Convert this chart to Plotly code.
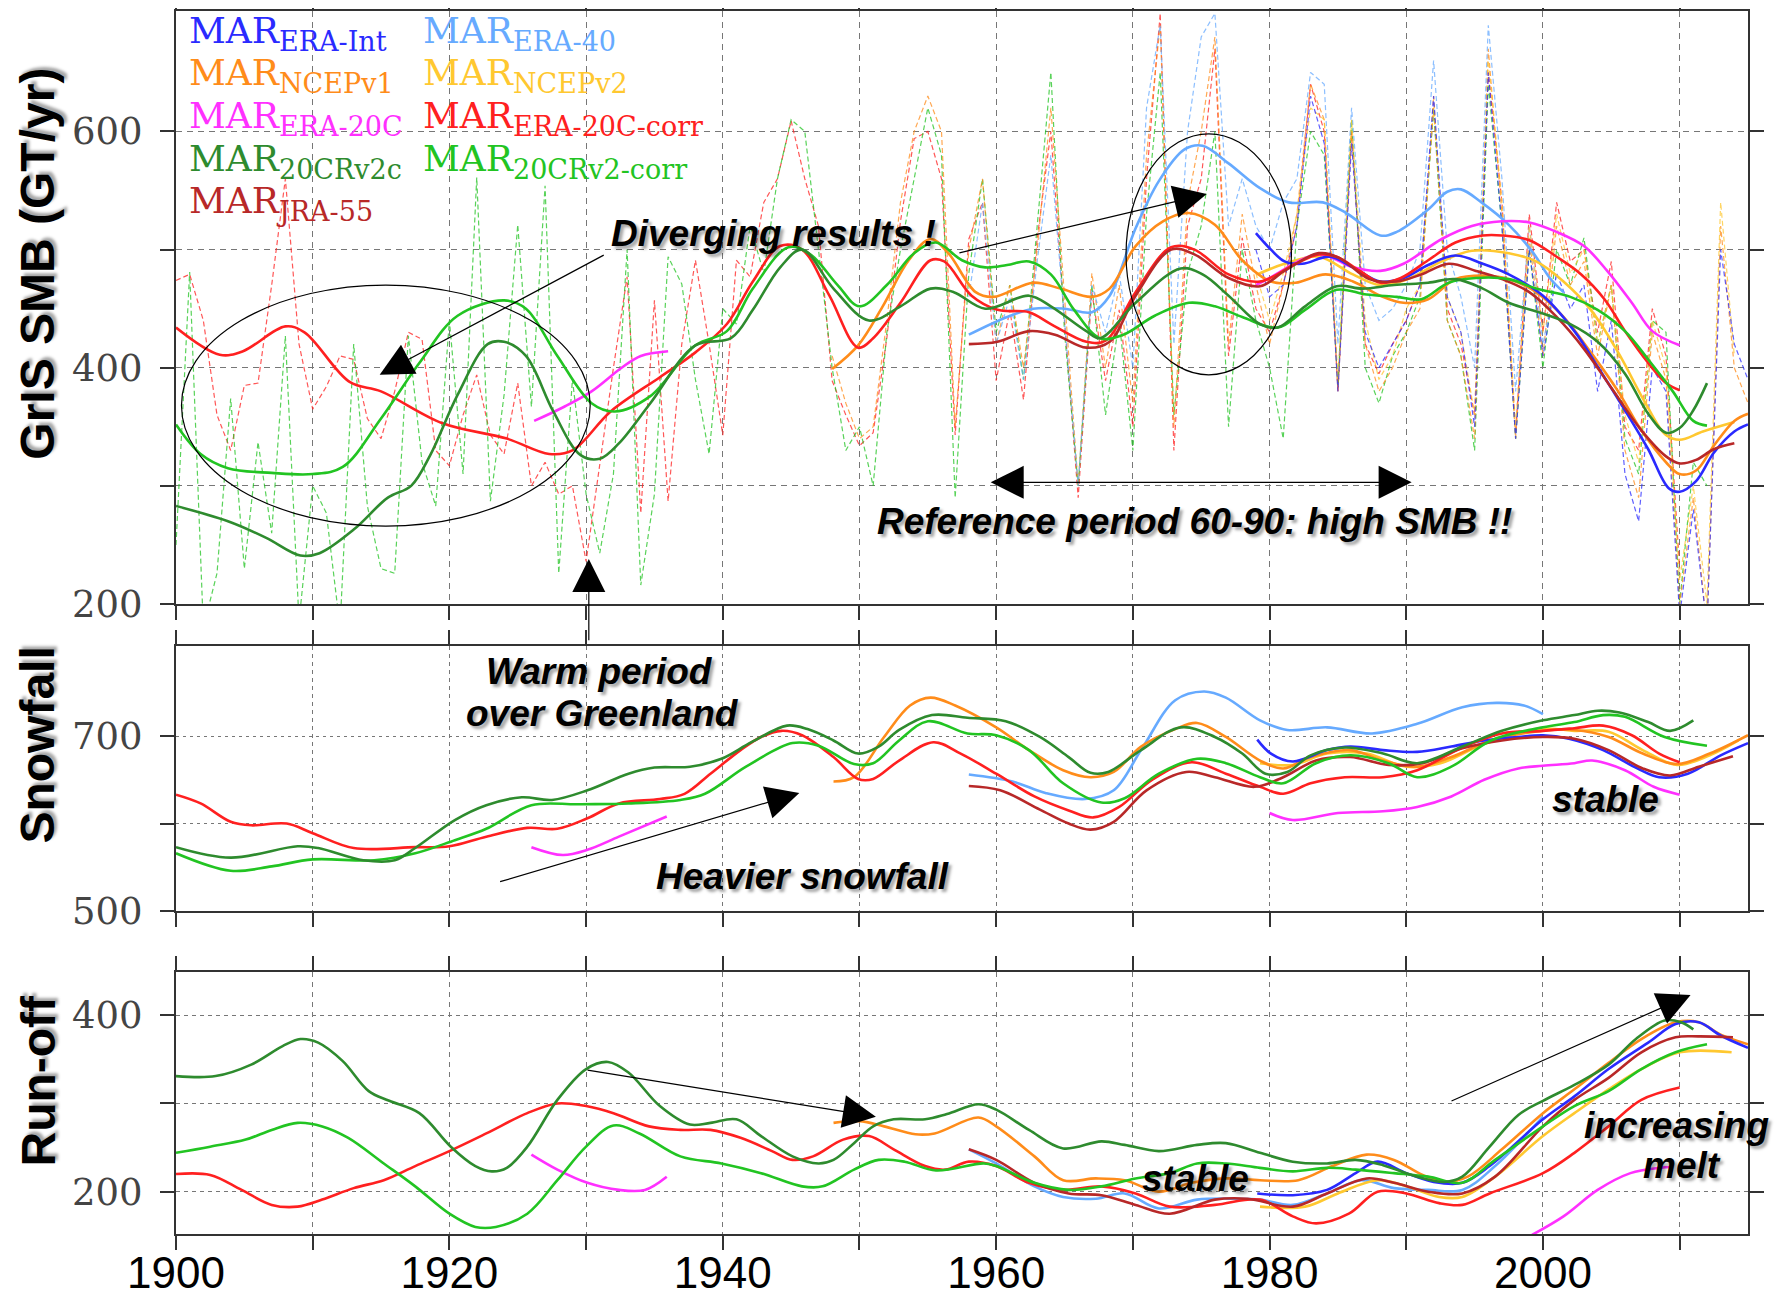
import plotly.graph_objects as go

# ---------------- colours ----------------
C_ERAINT = "#2a2aff"
C_ERA40 = "#66aaff"
C_NCEP1 = "#ff8c1a"
C_NCEP2 = "#ffc830"
C_ERA20C = "#ff30ff"
C_ERA20CC = "#ff2020"
C_20CRC = "#2e8b2e"
C_20CRCORR = "#22c422"
C_JRA = "#b82828"

# ---------------- SMB annual (dashed) ----------------
ann_red_years = list(range(1900, 2011))
ann_red = [474, 479, 440, 360, 330, 385, 387, 470, 560, 420, 365, 384, 410, 407, 357, 340, 380, 430, 424, 330,
           317, 360, 394, 343, 327, 387, 300, 320, 293, 300, 236, 320, 400, 477, 277, 457, 287, 420, 491, 420,
           343, 491, 477, 540, 560, 609, 560, 520, 389, 360, 334, 345, 425, 524, 594, 600, 560, 343, 509, 540,
           389, 449, 373, 509, 600, 440, 290, 464, 389, 449, 350, 560, 700, 330, 520, 560, 670, 410, 510, 450,
           430, 470, 520, 640, 600, 380, 600, 420, 395, 420, 440, 470, 620, 450, 420, 360, 650, 540, 345, 530,
           430, 540, 490, 500, 430, 490, 350, 330, 450, 410, 230]
ann_green_years = list(range(1900, 2013))
ann_green = [250, 481, 180, 226, 374, 230, 337, 260, 427, 185, 300, 277, 180, 420, 283, 230, 226, 427, 320, 283,
             440, 310, 561, 287, 377, 521, 367, 554, 226, 390, 293, 243, 310, 500, 216, 293, 494, 471, 390, 327,
             450, 437, 520, 480, 560, 610, 600, 500, 400, 330, 350, 300, 430, 500, 560, 620, 580, 290, 480, 560,
             430, 470, 390, 520, 650, 430, 300, 470, 360, 440, 330, 530, 650, 360, 480, 520, 600, 350, 500, 440,
             400, 340, 520, 600, 580, 385, 610, 400, 370, 410, 430, 460, 620, 440, 410, 330, 640, 520, 340, 500,
             400, 500, 470, 510, 420, 470, 340, 310, 440, 430, 200, 320, 300]
ann_orange_years = list(range(1948, 2016))
ann_orange = [410, 370, 340, 350, 440, 540, 600, 630, 600, 350, 500, 560, 420, 470, 400, 500, 620, 460, 300, 480,
              400, 470, 370, 580, 690, 350, 540, 600, 680, 420, 530, 470, 420, 470, 530, 640, 610, 380, 600, 420,
              380, 400, 430, 450, 630, 440, 410, 340, 670, 530, 340, 510, 410, 520, 470, 490, 410, 470, 330, 290,
              430, 390, 200, 290, 180, 520, 400, 370]
ann_lblue_years = list(range(1958, 2002))
ann_lblue = [460, 540, 420, 460, 390, 490, 580, 440, 300, 470, 430, 480, 400, 620, 690, 420, 600, 680, 700, 520,
             560, 520, 500, 540, 560, 650, 640, 420, 620, 470, 440, 450, 470, 500, 660, 500, 460, 400, 690, 560,
             380, 520, 420, 480]
ann_blue_years = list(range(1979, 2016))
ann_blue = [500, 460, 470, 520, 630, 590, 380, 590, 430, 400, 420, 440, 470, 630, 460, 430, 350, 650, 520, 340,
            500, 410, 480, 450, 470, 380, 440, 310, 270, 400, 380, 190, 280, 180, 500, 420, 390]
ann_gold_years = list(range(1979, 2015))
ann_gold = [480, 440, 480, 530, 620, 610, 390, 610, 440, 390, 410, 450, 470, 620, 460, 430, 360, 660, 540, 350,
            520, 430, 530, 480, 500, 420, 470, 360, 320, 440, 400, 220, 300, 200, 540, 410]

# ---------------- SMB smoothed ----------------
smb_red_x = [1900, 1903.2, 1904.9, 1908, 1909.4, 1912.7, 1915, 1919.5, 1924.2, 1927.3, 1929, 1931.8, 1935.4, 1938,
             1940.3, 1942.2, 1944.2, 1945.8, 1947.8, 1949.9, 1951, 1953, 1955.2, 1956.2, 1958.2, 1960.1, 1962.4,
             1964, 1966.6, 1968, 1970.2, 1972.8, 1974.5, 1977, 1979.3, 1981.9, 1983.6, 1984.9, 1986.6, 1988.1,
             1989.6, 1991.6, 1993.6, 1995.6, 1997, 1999, 2001, 2002.8, 2004.5, 2006, 2007.7, 2009, 2010]
smb_red_y = [434, 411, 414, 435, 430, 388, 380, 353, 340, 327, 330, 363, 392, 413, 437, 473, 503, 500, 461, 417,
             425, 455, 491, 490, 461, 449, 447, 437, 422, 423, 464, 502, 500, 479, 473, 488, 496, 494, 482, 472,
             476, 491, 506, 512, 512, 508, 494, 479, 458, 431, 404, 387, 381]
smb_lgreen_x = [1900, 1901.8, 1903.8, 1907, 1910, 1912.2, 1915, 1917.8, 1920.6, 1924, 1925.6, 1927.9, 1930.4,
                1932.1, 1934.7, 1938, 1940.3, 1942.2, 1944.8, 1946.4, 1948.4, 1950, 1952, 1954, 1955.6, 1957.5,
                1959.2, 1960.8, 1962.4, 1964, 1965.7, 1967.6, 1969.3, 1971.6, 1974.1, 1976, 1978, 1980.6, 1982.6,
                1984.9, 1987.1, 1989.3, 1991.1, 1993.1, 1995.1, 1997.5, 1999.5, 2002, 2004, 2006, 2007.7, 2009.5,
                2011, 2012]
smb_lgreen_y = [352, 327, 315, 311, 310, 316, 357, 404, 444, 457, 450, 410, 370, 363, 376, 419, 431, 467, 502, 496,
                470, 452, 470, 497, 506, 491, 485, 487, 490, 479, 449, 425, 428, 444, 455, 452, 443, 434, 449, 466,
                462, 460, 458, 472, 476, 475, 467, 460, 449, 431, 407, 380, 355, 351]
smb_dgreen_x = [1900, 1903.8, 1906.6, 1909.1, 1910.5, 1913, 1915.5, 1917.2, 1918.6, 1920.6, 1922.8, 1924, 1925.6,
                1927.6, 1929.6, 1931, 1932.4, 1934.7, 1938, 1940.6, 1942.2, 1944.2, 1945.8, 1948.1, 1950.7, 1953,
                1955.2, 1956.9, 1959.2, 1962.4, 1964, 1966.6, 1967.6, 1970.2, 1973.5, 1975.1, 1977, 1979.3, 1980.6,
                1982.6, 1984.9, 1986.8, 1989.1, 1991.6, 1993.6, 1995.6, 1997.5, 2000, 2002, 2004, 2006, 2007.7,
                2009, 2010, 2011, 2012]
smb_dgreen_y = [283, 270, 256, 241, 243, 263, 290, 300, 326, 377, 420, 422, 410, 363, 326, 323, 336, 370, 419, 425,
                449, 485, 500, 467, 440, 452, 467, 464, 450, 461, 452, 431, 425, 455, 484, 479, 461, 437, 434, 452,
                469, 467, 470, 472, 475, 467, 455, 446, 437, 422, 395, 361, 345, 349, 364, 387]
smb_mag_x = [1926.2, 1928.4, 1930.4, 1932.6, 1934, 1936, None, 1979, 1980, 1983.6, 1986.1, 1988.1, 1989.8, 1992.6,
             1994.8, 1997, 1999, 2001, 2003, 2004.7, 2006.5, 2008, 2010]
smb_mag_y = [355, 367, 380, 400, 410, 414, None, 470, 476, 496, 485, 482, 488, 509, 520, 524, 523, 515, 503, 482,
             455, 431, 419]
smb_blue_x = [1979, 1980.1, 1981.1, 1982.4, 1984.4, 1986.1, 1988.1, 1989.8, 1991.6, 1993.6, 1995.6, 1997.5, 2000,
              2002.3, 2004, 2006, 2007.7, 2009.2, 2010, 2011.2, 2012.5, 2014, 2015]
smb_blue_y = [514, 500, 490, 488, 494, 485, 473, 476, 487, 495, 488, 479, 461, 431, 401, 364, 331, 298, 295, 304,
              328, 346, 352]
smb_lblue_x = [1958, 1960.8, 1962.7, 1965, 1967, 1968.3, 1970.2, 1971.9, 1973.8, 1975.1, 1977, 1979.3, 1981.4,
               1983.9, 1985.6, 1988.1, 1989.3, 1991.6, 1993, 1994, 1995.5, 1997.5, 1999.3, 2000.5, 2001.5]
smb_lblue_y = [428, 443, 450, 450, 447, 461, 518, 558, 585, 588, 573, 552, 540, 540, 531, 512, 515, 534, 549, 551,
               540, 521, 497, 476, 464]
smb_orange_x = [1948, 1949.9, 1951.7, 1953.6, 1955.2, 1956.5, 1958.5, 1959.8, 1962.7, 1964.7, 1967, 1968.3, 1970.2,
                1972.2, 1974.1, 1976, 1978, 1980.1, 1981.9, 1984.1, 1986.1, 1988.1, 1989.8, 1991.6, 1993.6, 1995.6,
                1997.5, 1999.5, 2001.5, 2003.5, 2005.5, 2007.2, 2009, 2010, 2011.2, 2012.5, 2014, 2015]
smb_orange_y = [399, 419, 452, 491, 509, 497, 464, 460, 472, 467, 460, 467, 503, 524, 531, 521, 491, 473, 472, 479,
                473, 461, 455, 458, 475, 478, 475, 464, 443, 413, 380, 347, 320, 310, 313, 334, 355, 361]
smb_gold_x = [1979.1, 1981.1, 1983.6, 1986.1, 1988.1, 1990.1, 1992.6, 1994.8, 1997.5, 1999.5, 2001.5, 2003.5,
              2005.5, 2007.5, 2009, 2010, 2011.7, 2014]
smb_gold_y = [479, 488, 494, 479, 470, 475, 490, 499, 497, 490, 473, 449, 413, 370, 343, 339, 346, 354]
smb_jra_x = [1958, 1960.1, 1962.4, 1964.3, 1966.6, 1968.3, 1970.2, 1972.8, 1974.5, 1977, 1979.3, 1981.1, 1983.6,
             1985.1, 1987.3, 1989.3, 1991.1, 1993.1, 1995.1, 1997, 1999, 2001, 2003, 2005, 2007.2, 2009, 2010,
             2011.2, 2012.5, 2014]
smb_jra_y = [420, 422, 431, 428, 417, 422, 461, 500, 496, 476, 469, 482, 497, 493, 475, 473, 479, 488, 482, 475,
             464, 443, 416, 383, 347, 325, 319, 322, 331, 336]

# ---------------- Snowfall smoothed ----------------
sf_red_x = [1900, 1901.8, 1904, 1905.5, 1908.1, 1910, 1913, 1917.5, 1920, 1922.7, 1925.7, 1927.9, 1930.1, 1932.4,
            1935.4, 1937.2, 1939.1, 1941.3, 1942.8, 1944.3, 1945.8, 1948.1, 1949.9, 1951, 1952.9, 1955.4, 1957.4,
            1960, 1962.8, 1965.3, 1967.1, 1969, 1971.4, 1974.3, 1976.8, 1979.3, 1981, 1983, 1985.5, 1988.3, 1990.8,
            1994.1, 1997, 2000, 2002.3, 2004.4, 2006.5, 2008.5, 2010]
sf_red_y = [633, 623, 602, 598, 600, 589, 572, 573, 574, 585, 595, 594, 606, 623, 628, 634, 657, 684, 699, 706,
            701, 676, 651, 651, 672, 693, 680, 657, 631, 615, 607, 619, 650, 670, 657, 642, 634, 646, 653, 653, 661,
            687, 703, 706, 709, 712, 701, 680, 670]
sf_dgreen_x = [1900, 1904, 1908.9, 1910.4, 1913.7, 1916, 1917.5, 1920.4, 1922.7, 1925.3, 1927.5, 1930.1, 1933.1,
               1935, 1937.6, 1939.9, 1942.1, 1944.7, 1946.2, 1948.1, 1949.9, 1951.4, 1952.9, 1955.3, 1957.9, 1960.7,
               1963.2, 1965.3, 1966.9, 1968.2, 1970.6, 1973.5, 1976, 1978, 1979.7, 1981.3, 1983, 1985.5, 1988.3,
               1990.8, 1994.1, 1997, 2000, 2002.3, 2004, 2005.6, 2007.7, 2009.3, 2011]
sf_dgreen_y = [573, 561, 574, 572, 558, 558, 572, 604, 621, 630, 627, 638, 657, 664, 665, 674, 693, 712, 708, 695,
               680, 688, 707, 724, 721, 717, 699, 676, 658, 659, 684, 710, 699, 680, 657, 659, 678, 687, 680, 669,
               688, 706, 718, 724, 729, 727, 716, 706, 718]
sf_lgreen_x = [1900, 1904, 1907, 1910, 1914.5, 1917.5, 1920.4, 1922.7, 1926, 1929.4, 1933.1, 1936.9, 1938.7, 1941.7,
               1945.1, 1947, 1949.6, 1951, 1952.9, 1955, 1957.9, 1960, 1962.4, 1964.9, 1967.7, 1969.4, 1971.9,
               1974.7, 1976.8, 1979.3, 1981, 1983.4, 1985.9, 1988.7, 1990.8, 1993.3, 1996.2, 2000, 2002.3, 2004.4,
               2006, 2008.9, 2012]
sf_lgreen_y = [566, 546, 551, 559, 558, 566, 581, 594, 621, 622, 623, 627, 634, 665, 692, 689, 668, 669, 695, 717,
               703, 701, 684, 646, 624, 629, 657, 674, 669, 653, 646, 669, 678, 669, 653, 665, 695, 710, 716, 724,
               722, 699, 689]
sf_mag_x = [1926, 1928.3, 1930.1, 1932.4, 1935.9, None, 1980, 1981.7, 1985, 1988.3, 1990.8, 1993.3, 1995.7, 1998.2,
            2000, 2002.3, 2003.6, 2006, 2008.1, 2010]
sf_mag_y = [573, 564, 570, 585, 608, None, 612, 604, 612, 614, 619, 631, 650, 663, 666, 669, 672, 661, 642, 633]
sf_orange_x = [1948.1, 1949.6, 1951.8, 1953.7, 1955.2, 1957, 1960, 1962.4, 1964.9, 1966.9, 1968.6, 1970.6, 1973.1,
               1974.7, 1976.8, 1979.3, 1981, 1983, 1985.9, 1988.3, 1990.8, 1993.3, 1996.2, 2000, 2002.3, 2004.8,
               2007.3, 2009.8, 2012.2, 2015]
sf_orange_y = [648, 653, 699, 735, 744, 735, 710, 684, 661, 653, 659, 688, 708, 715, 699, 672, 663, 676, 684, 672,
               665, 676, 695, 706, 707, 699, 680, 668, 680, 701]
sf_lblue_x = [1958, 1961.2, 1963.6, 1966.5, 1968.6, 1970.6, 1973.1, 1975.2, 1976.8, 1979.3, 1981.3, 1984.2, 1987.5,
              1990.8, 1994.1, 1996.6, 1998.6, 2000]
sf_lblue_y = [656, 648, 635, 628, 638, 684, 741, 751, 744, 718, 707, 710, 703, 714, 733, 738, 735, 725]
sf_jra_x = [1958, 1960.3, 1963.2, 1965.3, 1966.9, 1968.6, 1971, 1973.9, 1976, 1978.9, 1981, 1983.4, 1985.9, 1988.7,
            1991.2, 1994.1, 1997, 2000, 2002.3, 2004.8, 2007.3, 2009.3, 2011.4, 2013.9]
sf_jra_y = [643, 638, 616, 600, 593, 602, 638, 659, 653, 642, 653, 672, 676, 667, 669, 686, 695, 699, 697, 684,
            663, 655, 665, 677]
sf_blue_x = [1979.1, 1980.1, 1981.7, 1984.2, 1985.9, 1988.3, 1990.8, 1993.3, 1995.7, 1998.2, 2000, 2001.9, 2004.4,
             2006.9, 2008.5, 2010.6, 2013, 2015]
sf_blue_y = [696, 680, 671, 684, 688, 684, 682, 688, 695, 699, 701, 697, 684, 663, 653, 657, 678, 692]
sf_gold_x = [1979.3, 1981.7, 1984.2, 1987.1, 1990, 1992.5, 1995.7, 2000, 2002.3, 2004.8, 2007.3, 2009.8, 2012.2,
             2014.3]
sf_gold_y = [669, 667, 680, 680, 665, 669, 691, 708, 706, 705, 684, 667, 678, 695]

# ---------------- Run-off smoothed ----------------
ro_dgreen_x = [1900, 1902.9, 1905.5, 1907.8, 1909.1, 1910.4, 1912.2, 1914.1, 1915.6, 1917.8, 1920.1, 1921.9, 1923.1,
               1924.2, 1925.7, 1927.9, 1930, 1931.6, 1933.1, 1935.4, 1937.6, 1939.1, 1941, 1942.8, 1945.1, 1947,
               1948.1, 1949.6, 1951, 1952.5, 1954.8, 1956.4, 1958.7, 1960, 1962.4, 1964.9, 1967.7, 1969.4, 1971.9,
               1974.7, 1976.8, 1979.3, 1981.7, 1984.2, 1986.3, 1988.3, 1990.8, 1992.8, 1994.1, 1996.1, 1998.2, 2000,
               2002.3, 2004.8, 2006.8, 2008.9, 2010.1, 2011]
ro_dgreen_y = [331, 331, 344, 365, 373, 369, 348, 314, 303, 289, 251, 229, 223, 227, 251, 304, 339, 347, 335, 297,
               276, 278, 282, 263, 240, 232, 236, 255, 274, 282, 282, 288, 299, 293, 270, 249, 257, 253, 246, 253,
               255, 244, 234, 232, 236, 230, 217, 211, 217, 251, 287, 303, 321, 344, 373, 394, 392, 384]
ro_lgreen_x = [1900, 1902.5, 1905.1, 1907, 1908.9, 1910.7, 1912.6, 1915.2, 1917.5, 1920, 1921.9, 1923.4, 1925.7,
               1927.9, 1930, 1932, 1933.9, 1936.9, 1939.9, 1942.8, 1945.8, 1947.3, 1949.6, 1951.4, 1953.3, 1955.6,
               1959.1, 1960, 1962.8, 1965.3, 1967.7, 1970.2, 1972.7, 1974.7, 1976.8, 1979.3, 1981.7, 1984.2, 1986.3,
               1989.1, 1991.6, 1994.1, 1996.5, 2000, 2002.3, 2004.8, 2007.2, 2009.7, 2012]
ro_lgreen_y = [244, 251, 259, 270, 278, 274, 261, 232, 206, 175, 160, 160, 175, 213, 251, 275, 266, 240, 232, 221,
               206, 206, 225, 236, 234, 224, 232, 229, 210, 202, 206, 215, 221, 232, 232, 227, 223, 227, 225, 221,
               217, 210, 236, 274, 297, 314, 339, 358, 367]
ro_red_x = [1900, 1902.5, 1904.8, 1907, 1908.9, 1910.7, 1913, 1915.2, 1917.5, 1920, 1922.7, 1925.7, 1927.9, 1930,
            1932, 1934.6, 1936.9, 1939.1, 1941.3, 1943.6, 1945.1, 1946.6, 1948.8, 1950.7, 1952.5, 1954.8, 1956.3,
            1958, 1960, 1962.4, 1964.9, 1967.7, 1970.2, 1972.7, 1976, 1979.3, 1981.7, 1983.4, 1985.8, 1987.9, 1990,
            1992.4, 1994.1, 1996.1, 2000, 2002.3, 2004.8, 2007.2, 2010]
ro_red_y = [220, 219, 202, 185, 183, 191, 204, 213, 229, 246, 266, 289, 300, 297, 289, 274, 270, 270, 261, 246, 236,
            240, 259, 263, 248, 229, 225, 234, 229, 210, 202, 206, 198, 183, 185, 191, 172, 164, 175, 200, 198, 187,
            185, 198, 221, 244, 274, 304, 318]
ro_mag_x = [1926, 1927.9, 1930.1, 1932.4, 1934.3, 1935.9, None, 1999.2, 2001.5, 2004, 2006.4, 2008.5, 2009.5]
ro_mag_y = [242, 225, 210, 202, 202, 217, None, 151, 172, 202, 221, 227, 228]
ro_orange_x = [1948.1, 1950, 1951.8, 1954.1, 1955.5, 1958.7, 1960, 1962.8, 1964.9, 1967.3, 1969.4, 1971.9, 1974.3,
               1976.8, 1979.3, 1982.1, 1984.6, 1987.1, 1989.1, 1991.2, 1992.8, 1994.5, 1997, 2000, 2002.3, 2004.8,
               2007.2, 2009.7, 2011.4, 2013, 2015]
ro_orange_y = [278, 280, 274, 265, 266, 284, 274, 240, 213, 215, 213, 200, 210, 215, 213, 213, 229, 242, 236, 219,
               211, 217, 248, 289, 316, 346, 373, 392, 392, 378, 367]
ro_blue_x = [1979.1, 1981.7, 1984.2, 1986.3, 1987.9, 1990, 1992, 1994.1, 1996.1, 2000, 2002.3, 2004.8, 2007.7,
             2009.7, 2011.4, 2013, 2015]
ro_blue_y = [198, 196, 202, 221, 234, 221, 211, 210, 229, 282, 308, 339, 369, 390, 392, 377, 363]
ro_lblue_x = [1958, 1960, 1962.8, 1964.9, 1967.3, 1969.4, 1971.9, 1974.7, 1977.6, 1979.3, 1981.7, 1984.2, 1986.7,
              1989.1, 1991.6, 1994.1, 1996.5, 2000]
ro_lblue_y = [248, 232, 206, 194, 192, 198, 181, 191, 192, 191, 185, 198, 213, 204, 202, 202, 229, 285]
ro_jra_x = [1958, 1960, 1962.8, 1965.3, 1967.7, 1970.2, 1972.7, 1976, 1978.4, 1981.7, 1984.2, 1987.1, 1989.1,
            1991.6, 1994.1, 1996.5, 2000, 2002.3, 2004.8, 2007.2, 2009.7, 2011.4, 2013.9]
ro_jra_y = [248, 236, 210, 198, 196, 185, 175, 191, 192, 183, 198, 215, 210, 200, 198, 217, 274, 304, 329, 358,
            375, 376, 375]
ro_gold_x = [1979.3, 1982.6, 1985, 1987.9, 1990, 1992.4, 1994.1, 1996.5, 2000, 2002.3, 2004.8, 2007.2, 2010, 2013.8]
ro_gold_y = [183, 183, 198, 213, 206, 194, 194, 217, 263, 289, 316, 339, 358, 358]

# ---------------- legend labels ----------------
legend_items = [
    ("ERA-Int", C_ERAINT, 0, 0), ("ERA-40", C_ERA40, 1, 0),
    ("NCEPv1", C_NCEP1, 0, 1), ("NCEPv2", C_NCEP2, 1, 1),
    ("ERA-20C", C_ERA20C, 0, 2), ("ERA-20C-corr", C_ERA20CC, 1, 2),
    ("20CRv2c", C_20CRC, 0, 3), ("20CRv2-corr", C_20CRCORR, 1, 3),
    ("JRA-55", C_JRA, 0, 4),
]
x_ticks = list(range(1900, 2011, 10))
x_ticktext = ["1900", "", "1920", "", "1940", "", "1960", "", "1980", "", "2000", ""]

fig = go.Figure()


def add_line(x, y, color, xa, ya, width=2.6, dash=None, opacity=1.0, shape="spline"):
    line = dict(color=color, width=width, shape=shape)
    if shape == "spline":
        line["smoothing"] = 1.0
    if dash:
        line["dash"] = dash
    fig.add_trace(go.Scatter(x=x, y=y, mode="lines", line=line, opacity=opacity,
                             xaxis=xa, yaxis=ya, showlegend=False, hoverinfo="skip",
                             connectgaps=False))


# dashed annual SMB
DASH = "5px,3px"
for xs, ys, c in [(ann_red_years, ann_red, C_ERA20CC), (ann_green_years, ann_green, C_20CRCORR),
                  (ann_orange_years, ann_orange, C_NCEP1), (ann_lblue_years, ann_lblue, C_ERA40),
                  (ann_gold_years, ann_gold, C_NCEP2), (ann_blue_years, ann_blue, C_ERAINT)]:
    add_line(xs, ys, c, "x", "y", width=1.2, dash=DASH, opacity=0.75, shape="linear")

# smoothed SMB
for xs, ys, c in [(smb_lblue_x, smb_lblue_y, C_ERA40), (smb_gold_x, smb_gold_y, C_NCEP2),
                  (smb_orange_x, smb_orange_y, C_NCEP1), (smb_mag_x, smb_mag_y, C_ERA20C),
                  (smb_blue_x, smb_blue_y, C_ERAINT), (smb_red_x, smb_red_y, C_ERA20CC),
                  (smb_jra_x, smb_jra_y, C_JRA), (smb_lgreen_x, smb_lgreen_y, C_20CRCORR),
                  (smb_dgreen_x, smb_dgreen_y, C_20CRC)]:
    add_line(xs, ys, c, "x", "y")

for xs, ys, c in [(sf_lblue_x, sf_lblue_y, C_ERA40), (sf_gold_x, sf_gold_y, C_NCEP2),
                  (sf_orange_x, sf_orange_y, C_NCEP1), (sf_mag_x, sf_mag_y, C_ERA20C),
                  (sf_blue_x, sf_blue_y, C_ERAINT), (sf_red_x, sf_red_y, C_ERA20CC),
                  (sf_jra_x, sf_jra_y, C_JRA), (sf_lgreen_x, sf_lgreen_y, C_20CRCORR),
                  (sf_dgreen_x, sf_dgreen_y, C_20CRC)]:
    add_line(xs, ys, c, "x2", "y2")

for xs, ys, c in [(ro_lblue_x, ro_lblue_y, C_ERA40), (ro_gold_x, ro_gold_y, C_NCEP2),
                  (ro_orange_x, ro_orange_y, C_NCEP1), (ro_mag_x, ro_mag_y, C_ERA20C),
                  (ro_blue_x, ro_blue_y, C_ERAINT), (ro_red_x, ro_red_y, C_ERA20CC),
                  (ro_jra_x, ro_jra_y, C_JRA), (ro_lgreen_x, ro_lgreen_y, C_20CRCORR),
                  (ro_dgreen_x, ro_dgreen_y, C_20CRC)]:
    add_line(xs, ys, c, "x3", "y3")

# ---------------- axes ----------------
TICKFONT = dict(family="DejaVu Serif", size=37, color="#444444")
FRAME = dict(showline=True, linecolor="#333333", linewidth=2, mirror="allticks", ticks="outside",
             ticklen=14, tickwidth=1.5, tickcolor="#333333", zeroline=False, automargin=False)


def xax(anchor, labels, griddash):
    d = dict(FRAME, anchor=anchor, range=[1900, 2015], tickmode="array", tickvals=x_ticks,
             ticktext=x_ticktext, showgrid=True, gridcolor="#777777", gridwidth=1.2, griddash=griddash,
             showticklabels=labels, tickfont=dict(family="Liberation Sans", size=44, color="#000000"),
             ticklabelstandoff=-15)
    return d


def yax(anchor, dom, rng, vals, text, griddash):
    return dict(FRAME, anchor=anchor, domain=dom, range=rng, tickmode="array", tickvals=vals, ticktext=text,
                showgrid=True, gridcolor="#777777", gridwidth=1.2, griddash=griddash, tickfont=TICKFONT,
                ticklabelstandoff=10)


# page body adds an 8 px offset; figure coordinates below are page pixels minus 8
PT, PB = 3, 1226
PH = float(PB - PT)


def dom(top_page, bot_page):
    return [(PB - (bot_page - 8)) / PH, (PB - (top_page - 8)) / PH]


fig.update_layout(
    width=1783, height=1296, margin=dict(l=168, r=43, t=PT, b=1296 - PB),
    paper_bgcolor="white", plot_bgcolor="white",
    xaxis=xax("y", False, "6px,5px"),
    xaxis2=xax("y2", False, "4px,4px"),
    xaxis3=xax("y3", True, "5px,5px"),
    yaxis=yax("x", dom(11, 604), [200, 702], [200, 300, 400, 500, 600], ["200", "", "400", "", "600"], "6px,5px"),
    yaxis2=yax("x2", dom(646, 911), [500, 803], [500, 600, 700], ["500", "", "700"], "3px,4px"),
    yaxis3=yax("x3", dom(972, 1234), [152, 449], [200, 300, 400], ["200", "", "400"], "4px,4px"),
)

# ---------------- annotations ----------------
SHADOW = "3px 3px 3px rgba(0,0,0,0.35)"
BI = dict(family="Liberation Sans", size=37, color="#000000", weight="bold", style="italic", shadow=SHADOW)
TITLEF = dict(family="Liberation Sans", size=48, color="#000000", weight="bold", shadow=SHADOW)

ann = []
# axis titles (paper coordinates)
for txt, ypaper in [("GrIS SMB (GT/yr)", 0.793), ("Snowfall", 0.3998), ("Run-off", 0.1251)]:
    ann.append(dict(text=txt, xref="paper", yref="paper", x=-0.0881, y=ypaper,
                    xanchor="center", yanchor="middle", textangle=-90, showarrow=False, font=TITLEF))

# legend
col_x = [1900.8, 1917.9]
row_y = [683, 647, 611, 575, 539]
for name, c, col, row in legend_items:
    ann.append(dict(text="MAR<sub><span style='font-size:27px'>" + name + "</span></sub>",
                    xref="x", yref="y", x=col_x[col], y=row_y[row],
                    xanchor="left", yanchor="middle", showarrow=False,
                    font=dict(family="DejaVu Serif", size=36, color=c)))

# text labels
for txt, xr, yr, x, y in [("Diverging results !", "x", "y", 1943.7, 514),
                          ("Reference period 60-90: high SMB !!", "x", "y", 1974.5, 270),
                          ("Warm period", "x2", "y2", 1931.0, 774),
                          ("over Greenland", "x2", "y2", 1931.2, 726),
                          ("Heavier snowfall", "x2", "y2", 1945.8, 540),
                          ("stable", "x2", "y2", 2004.6, 627),
                          ("stable", "x3", "y3", 1974.6, 215),
                          ("increasing", "x3", "y3", 2009.8, 275),
                          ("melt", "x3", "y3", 2010.2, 230)]:
    ann.append(dict(text=txt, xref=xr, yref=yr, x=x, y=y, xanchor="center", yanchor="middle",
                    showarrow=False, font=BI))

# arrows
arrows = [
    ("x", "y", 1914.9, 394, 1931.4, 496, "end"),
    ("x", "y", 1975.4, 547, 1957.2, 497, "end"),
    ("x", "y", 1959.6, 303, 1990.5, 303, "end+start"),
    ("x", "y", 1930.2, 238, 1930.2, 168, "end"),
    ("x2", "y2", 1945.6, 635, 1923.6, 533, "end"),
    ("x3", "y3", 1951.2, 285, 1930.0, 338, "end"),
    ("x3", "y3", 2010.8, 423, 1993.2, 302, "end"),
]
for xr, yr, hx, hy, tx, ty, side in arrows:
    ann.append(dict(text="", xref=xr, yref=yr, x=hx, y=hy, axref=xr, ayref=yr, ax=tx, ay=ty,
                    showarrow=True, arrowhead=2, arrowsize=5.5, arrowwidth=1.2, arrowcolor="#000000",
                    arrowside=side, standoff=0, startstandoff=0))

fig.update_layout(annotations=ann)

# ellipses
fig.add_shape(type="circle", xref="x", yref="y", x0=1900.4, x1=1930.3, y0=266, y1=470,
              line=dict(color="#000000", width=1.2))
fig.add_shape(type="circle", xref="x", yref="y", x0=1969.5, x1=1981.6, y0=394, y1=598,
              line=dict(color="#000000", width=1.2))

fig.write_html("out.html")
